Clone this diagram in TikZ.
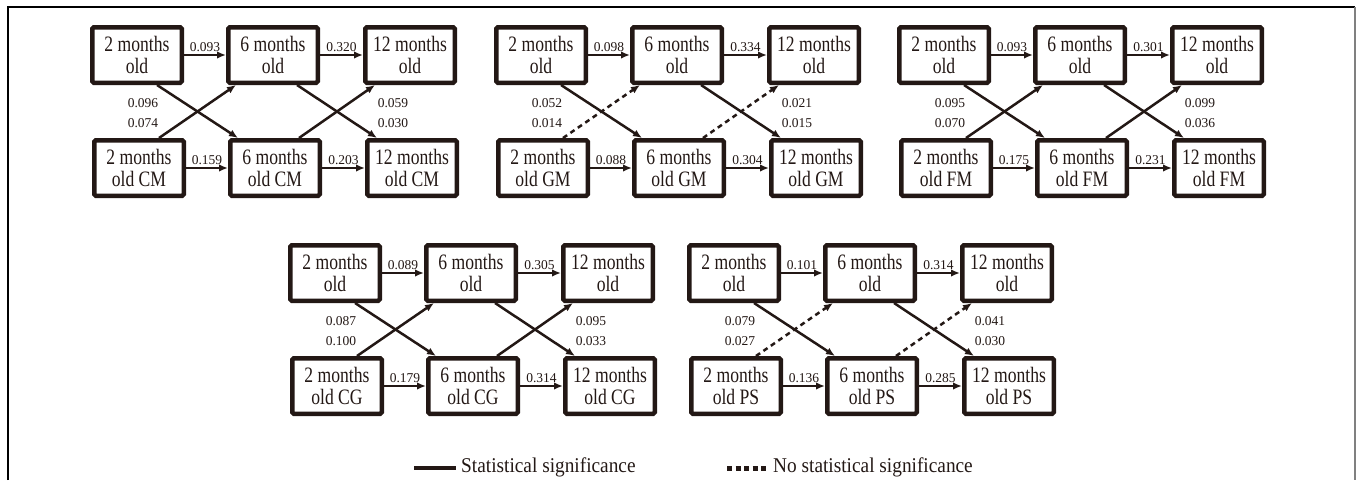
\documentclass[tikz,border=0pt]{standalone}
\usepackage{fontspec}
\setmainfont{Liberation Serif}
\newfontfamily\boxfont{Liberation Serif}[FakeStretch=0.8]
\newfontfamily\legfont{Liberation Serif}[FakeStretch=0.92]
\usetikzlibrary{arrows.meta}
\definecolor{ink}{RGB}{35,24,21}

\tikzset{
  agebox/.style={draw=ink, text=ink, line width=4.5pt, rounded corners=1.5pt,
    minimum width=89.5pt, minimum height=55.5pt, inner sep=1pt,
    align=center, font=\boxfont\fontsize{22}{21.5}\selectfont},
  coef/.style={inner sep=1pt, text=ink, font=\fontsize{13.5}{14}\selectfont},
  sig/.style={ink, line width=2.5pt, -{Latex[length=9pt,width=7.5pt]}},
  nosig/.style={sig, dash pattern=on 5pt off 4pt},
  legtxt/.style={inner sep=1pt, anchor=west, text=ink, font=\legfont\fontsize{21}{22}\selectfont},
}

\begin{document}
\begin{tikzpicture}[x=1pt,y=-1pt]
\useasboundingbox (0,0) rectangle (1357,480);
% frame, open at the bottom
\draw[line width=1.2pt] (8,480) -- (8,7) -- (1355,7);
\draw[gray, line width=1.5pt] (1355,7) -- (1355,480);

\foreach \px/\py/\g/\ta/\tb/\ba/\bb/\la/\lb/\ra/\rb/\up in {
  137/55/CM/0.093/0.320/0.159/0.203/0.096/0.074/0.059/0.030/sig,
  541/55/GM/0.098/0.334/0.088/0.304/0.052/0.014/0.021/0.015/nosig,
  944/55/FM/0.093/0.301/0.175/0.231/0.095/0.070/0.099/0.036/sig,
  335/273/CG/0.089/0.305/0.179/0.314/0.087/0.100/0.095/0.033/sig,
  734/273/PS/0.101/0.314/0.136/0.285/0.079/0.027/0.041/0.030/nosig}{
  \node[agebox] (t1\g) at (\px,\py) {2 months\\old};
  \node[agebox] (t2\g) at (\px+136,\py) {6 months\\old};
  \node[agebox] (t3\g) at (\px+273,\py) {12 months\\old};
  \node[agebox] (b1\g) at (\px+2,\py+113) {2 months\\old \g};
  \node[agebox] (b2\g) at (\px+138,\py+113) {6 months\\old \g};
  \node[agebox] (b3\g) at (\px+275,\py+113) {12 months\\old \g};
  % straight paths
  \draw[sig] (t1\g) -- node[coef, above=1pt] {\ta} (t2\g);
  \draw[sig] (t2\g) -- node[coef, above=1pt] {\tb} (t3\g);
  \draw[sig] (b1\g) -- node[coef, above=1pt] {\ba} (b2\g);
  \draw[sig] (b2\g) -- node[coef, above=1pt] {\bb} (b3\g);
  % cross paths
  \draw[sig] ([xshift=-27pt]t1\g.south east) -- ([xshift=10pt]b2\g.north west);
  \draw[\up] ([xshift=-27pt]b1\g.north east) -- ([xshift=10pt]t2\g.south west);
  \draw[sig] ([xshift=-23pt]t2\g.south east) -- ([xshift=12pt]b3\g.north west);
  \draw[\up] ([xshift=-23pt]b2\g.north east) -- ([xshift=12pt]t3\g.south west);
  \node[coef] (cl1\g) at ([shift={(6,48)}]t1\g.center) {\la};
  \node[coef] (cl2\g) at ([shift={(6,68)}]t1\g.center) {\lb};
  \node[coef] (cr1\g) at ([shift={(256,48)}]t1\g.center) {\ra};
  \node[coef] (cr2\g) at ([shift={(256,68)}]t1\g.center) {\rb};
}

% legend
\node[legtxt] (sigtxt) at (460,467) {Statistical significance};
\coordinate (sigstart) at (414,468);
\draw[ink, line width=4.5pt] (sigstart) -- ([xshift=-4pt]sigstart -| sigtxt.west);
\node[legtxt] (nstxt) at (772,467) {No statistical significance};
\coordinate (nsstart) at (727,468);
\draw[ink, line width=5pt, dash pattern=on 5pt off 3.5pt] (nsstart) -- ([xshift=-4pt]nsstart -| nstxt.west);
\end{tikzpicture}
\end{document}
